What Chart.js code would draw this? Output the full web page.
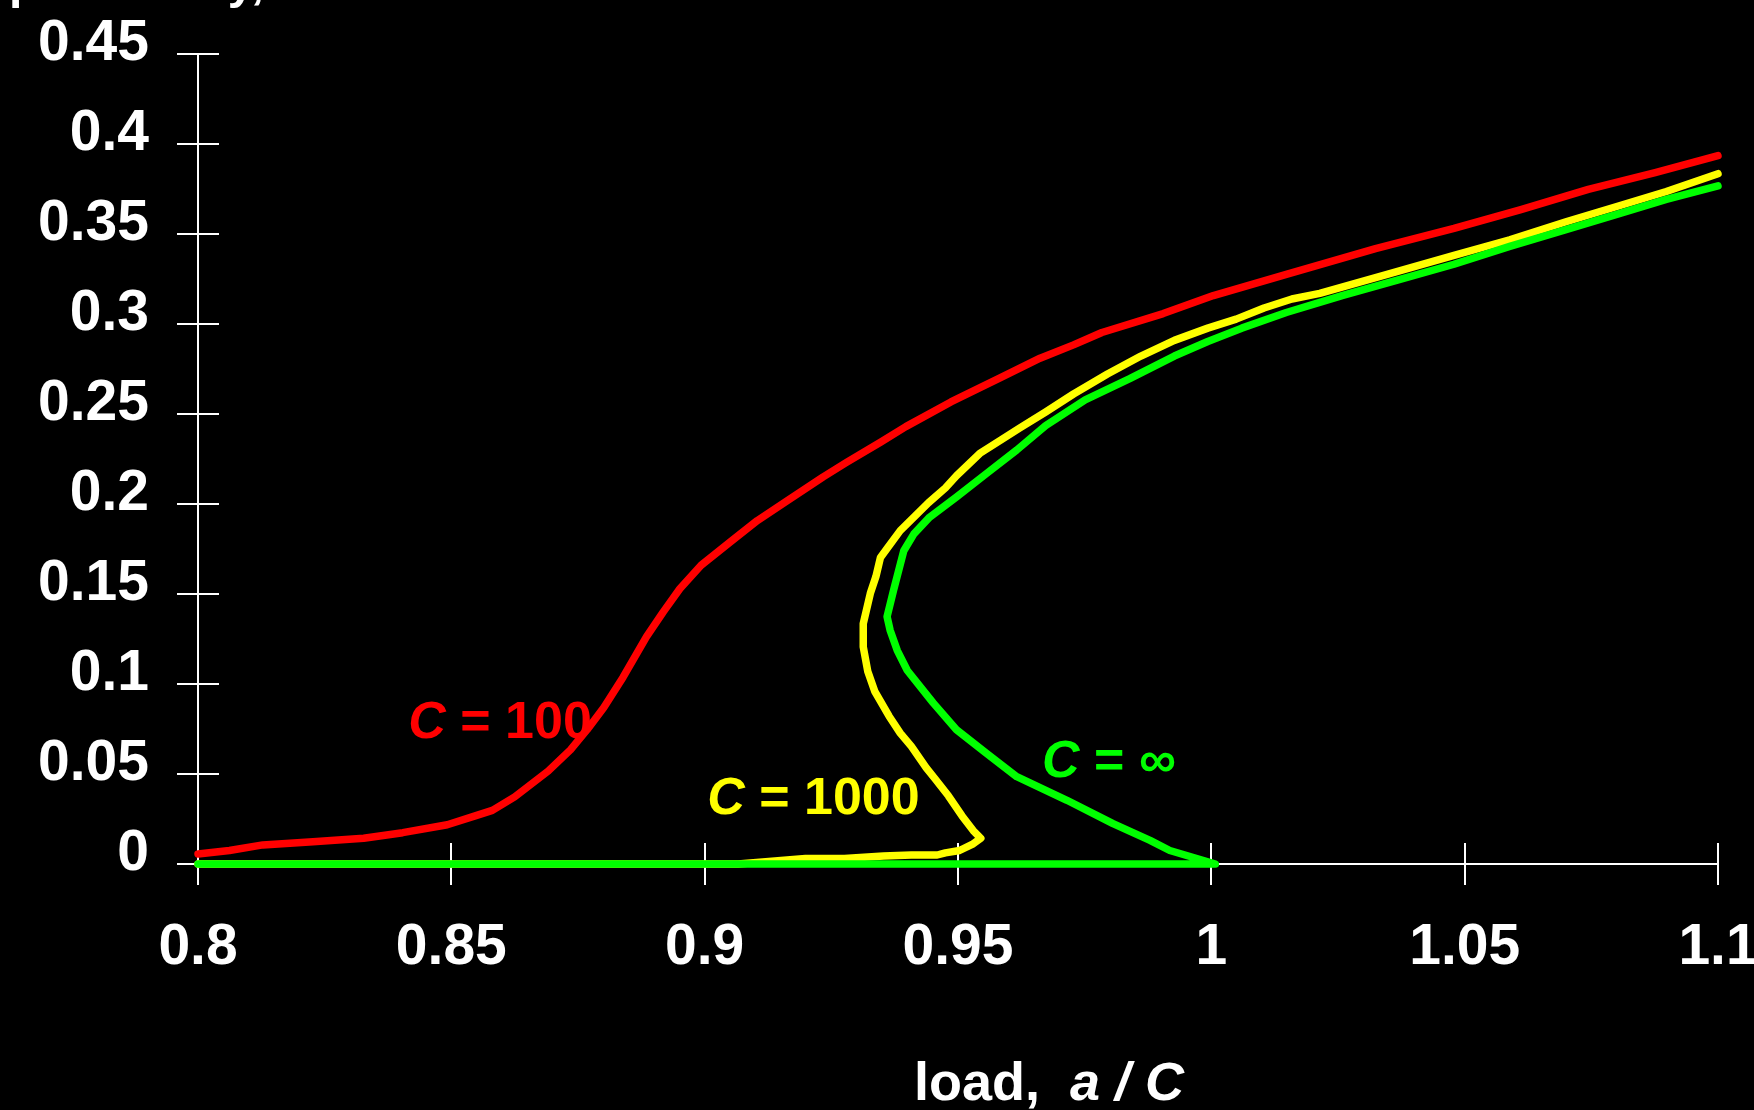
<!DOCTYPE html>
<html>
<head>
<meta charset="utf-8">
<script src="https://cdn.jsdelivr.net/npm/chart.js@4.4.1/dist/chart.umd.min.js"></script>
<style>
  html, body { margin: 0; padding: 0; background: #000; overflow: hidden; width: 1754px; height: 1110px; }
  #wrap { position: absolute; left: 0; top: 0; width: 1800px; height: 1110px; }
</style>
</head>
<body>
<div id="wrap"><canvas id="c" width="1800" height="1110"></canvas></div>
<script>
// Axis ticks
const xTickValues = [0.8, 0.85, 0.9, 0.95, 1, 1.05, 1.1];
const xTickLabels = ['0.8', '0.85', '0.9', '0.95', '1', '1.05', '1.1'];
const yTickValues = [0, 0.05, 0.1, 0.15, 0.2, 0.25, 0.3, 0.35, 0.4, 0.45];
const yTickLabels = ['0', '0.05', '0.1', '0.15', '0.2', '0.25', '0.3', '0.35', '0.4', '0.45'];

// C = 100
const redX = [0.8000, 0.8062, 0.8128, 0.8227, 0.8327, 0.8404, 0.8492, 0.8547, 0.8581, 0.8625,
  0.8691, 0.8735, 0.8768, 0.8801, 0.8839, 0.8885, 0.8918, 0.8951, 0.8993, 0.9051,
  0.9104, 0.9161, 0.9234, 0.9280, 0.9347, 0.9397, 0.9486, 0.9585, 0.9662, 0.9728,
  0.9784, 0.9905, 1.0004, 1.0148, 1.0324, 1.0479, 1.0611, 1.0744, 1.0876, 1.1000];
const redY = [0.0056, 0.0075, 0.0106, 0.0124, 0.0143, 0.0174, 0.0218, 0.0267, 0.0298, 0.0373,
  0.0516, 0.0634, 0.0746, 0.0870, 0.1038, 0.1262, 0.1399, 0.1529, 0.1660, 0.1790,
  0.1908, 0.2014, 0.2151, 0.2231, 0.2343, 0.2430, 0.2567, 0.2704, 0.2810, 0.2884,
  0.2953, 0.3058, 0.3158, 0.3276, 0.3419, 0.3531, 0.3636, 0.3748, 0.3841, 0.3935];

// C = 1000
const yellowX = [0.8000, 0.9066, 0.9199, 0.9276, 0.9353, 0.9408, 0.9459, 0.9475, 0.9503, 0.9530,
  0.9545, 0.9530, 0.9508, 0.9481, 0.9455, 0.9437, 0.9408, 0.9386, 0.9364, 0.9336,
  0.9322, 0.9313, 0.9313, 0.9327, 0.9338, 0.9347, 0.9360, 0.9386, 0.9415, 0.9442,
  0.9475, 0.9497, 0.9543, 0.9585, 0.9623, 0.9673, 0.9728, 0.9795, 0.9861, 0.9927,
  0.9993, 1.0049, 1.0104, 1.0159, 1.0214, 1.0347, 1.0479, 1.0589, 1.0700, 1.0810,
  1.0898, 1.1000];
const yellowY = [0, 0, 0.0031, 0.0031, 0.0044, 0.0050, 0.0050, 0.0062, 0.0075, 0.0112,
  0.0143, 0.0186, 0.0267, 0.0379, 0.0472, 0.0535, 0.0653, 0.0727, 0.0821, 0.0957,
  0.1069, 0.1206, 0.1336, 0.1504, 0.1597, 0.1703, 0.1753, 0.1852, 0.1933, 0.2008,
  0.2089, 0.2157, 0.2281, 0.2356, 0.2424, 0.2511, 0.2611, 0.2722, 0.2822, 0.2909,
  0.2977, 0.3027, 0.3089, 0.3139, 0.3170, 0.3276, 0.3381, 0.3468, 0.3568, 0.3661,
  0.3736, 0.3835];

// C = infinity
const greenX = [0.8000, 1.0008, 0.9918, 0.9879, 0.9806, 0.9715, 0.9616, 0.9556, 0.9497, 0.9451,
  0.9400, 0.9380, 0.9366, 0.9360, 0.9373, 0.9393, 0.9413, 0.9444, 0.9497, 0.9556,
  0.9616, 0.9673, 0.9751, 0.9839, 0.9927, 0.9993, 1.0060, 1.0148, 1.0258, 1.0369,
  1.0479, 1.0589, 1.0700, 1.0810, 1.0898, 1.1000];
const greenY = [0, 0, 0.0075, 0.0131, 0.0224, 0.0354, 0.0485, 0.0615, 0.0746, 0.0895,
  0.1075, 0.1187, 0.1299, 0.1374, 0.1523, 0.1740, 0.1834, 0.1927, 0.2039, 0.2169,
  0.2300, 0.2436, 0.2579, 0.2697, 0.2822, 0.2903, 0.2977, 0.3064, 0.3158, 0.3245,
  0.3332, 0.3431, 0.3524, 0.3617, 0.3692, 0.3767];

const FONT = '"Liberation Sans", Arial, Helvetica, sans-serif';
const RED = '#ff0000', YELLOW = '#ffff00', GREEN = '#00ff00';

const toPoints = (xs, ys) => xs.map((x, i) => ({ x: x, y: ys[i] }));

function lineSet(label, xs, ys, color, order) {
  return {
    label: label,
    data: toPoints(xs, ys),
    showLine: true,
    borderColor: color,
    backgroundColor: color,
    borderWidth: 7.5,
    borderCapStyle: 'round',
    borderJoinStyle: 'round',
    pointRadius: 0,
    tension: 0,
    clip: false,
    order: order
  };
}

// Curve labels, anchored in data units (left end of the text baseline)
const curveLabels = [
  { x: 0.8415, y: 0.070, color: RED, tail: ' = 100' },
  { x: 0.9005, y: 0.0278, color: YELLOW, tail: ' = 1000' },
  { x: 0.9666, y: 0.0483, color: GREEN, tail: ' = \u221E' }
];

// Short tick stubs pointing into the plot area
const innerTicks = {
  id: 'innerTicks',
  beforeDatasetsDraw(chart) {
    const { ctx, chartArea, scales } = chart;
    ctx.save();
    ctx.strokeStyle = '#ffffff';
    ctx.lineWidth = 2;
    ctx.beginPath();
    scales.x.ticks.forEach(t => {
      const px = Math.round(scales.x.getPixelForValue(t.value));
      ctx.moveTo(px, chartArea.bottom);
      ctx.lineTo(px, chartArea.bottom - 21);
    });
    scales.y.ticks.forEach(t => {
      const py = Math.round(scales.y.getPixelForValue(t.value));
      ctx.moveTo(chartArea.left, py);
      ctx.lineTo(chartArea.left + 21, py);
    });
    ctx.stroke();
    ctx.restore();
  }
};

// Curve labels and axis titles
const textLayer = {
  id: 'textLayer',
  afterDatasetsDraw(chart) {
    const { ctx, scales } = chart;
    ctx.save();
    ctx.textBaseline = 'alphabetic';
    ctx.textAlign = 'left';
    curveLabels.forEach(l => {
      let px = scales.x.getPixelForValue(l.x);
      const py = scales.y.getPixelForValue(l.y);
      ctx.fillStyle = l.color;
      ctx.font = 'italic bold 52px ' + FONT;
      ctx.fillText('C', px, py);
      px += ctx.measureText('C').width;
      ctx.font = 'bold 52px ' + FONT;
      ctx.fillText(l.tail, px, py);
    });

    // x-axis title
    ctx.fillStyle = '#ffffff';
    let tx = 914;
    const ty = 1100;
    ctx.font = 'bold 54px ' + FONT;
    ctx.fillText('load,  ', tx, ty);
    tx += ctx.measureText('load,  ').width;
    ctx.font = 'italic bold 54px ' + FONT;
    ctx.fillText('a / C', tx, ty);

    // y-axis title, running off the top edge
    ctx.font = 'bold 48px ' + FONT;
    ctx.fillText('probability,', 9, -2);
    ctx.restore();
  }
};

const tickFont = { family: FONT, size: 57, weight: 'bold' };

new Chart(document.getElementById('c'), {
  type: 'scatter',
  data: {
    datasets: [
      lineSet('C = 100', redX, redY, RED, 2),
      lineSet('C = 1000', yellowX, yellowY, YELLOW, 1),
      lineSet('C = \u221E', greenX, greenY, GREEN, 0)
    ]
  },
  options: {
    responsive: false,
    animation: false,
    devicePixelRatio: 1,
    layout: { padding: { left: 0, right: 82, top: 54, bottom: 0 } },
    plugins: { legend: { display: false }, tooltip: { enabled: false } },
    scales: {
      x: {
        type: 'linear',
        min: 0.8,
        max: 1.1,
        afterBuildTicks: s => { s.ticks = xTickValues.map(v => ({ value: v })); },
        afterFit: s => { s.height = 246; s.paddingLeft = 0; s.paddingRight = 0; },
        ticks: {
          color: '#ffffff',
          font: tickFont,
          padding: 29,
          maxRotation: 0,
          autoSkip: false,
          callback: (v, i) => xTickLabels[i]
        },
        grid: { drawOnChartArea: false, drawTicks: true, tickLength: 21, color: '#ffffff', lineWidth: 2 },
        border: { display: true, color: '#ffffff', width: 2 }
      },
      y: {
        type: 'linear',
        min: 0,
        max: 0.45,
        afterBuildTicks: s => { s.ticks = yTickValues.map(v => ({ value: v })); },
        afterFit: s => { s.width = 198; s.paddingTop = 0; s.paddingBottom = 0; },
        ticks: {
          color: '#ffffff',
          font: tickFont,
          padding: 28,
          labelOffset: -10,
          autoSkip: false,
          callback: (v, i) => yTickLabels[i]
        },
        grid: { drawOnChartArea: false, drawTicks: true, tickLength: 21, color: '#ffffff', lineWidth: 2 },
        border: { display: true, color: '#ffffff', width: 2 }
      }
    }
  },
  plugins: [innerTicks, textLayer]
});
</script>
</body>
</html>
